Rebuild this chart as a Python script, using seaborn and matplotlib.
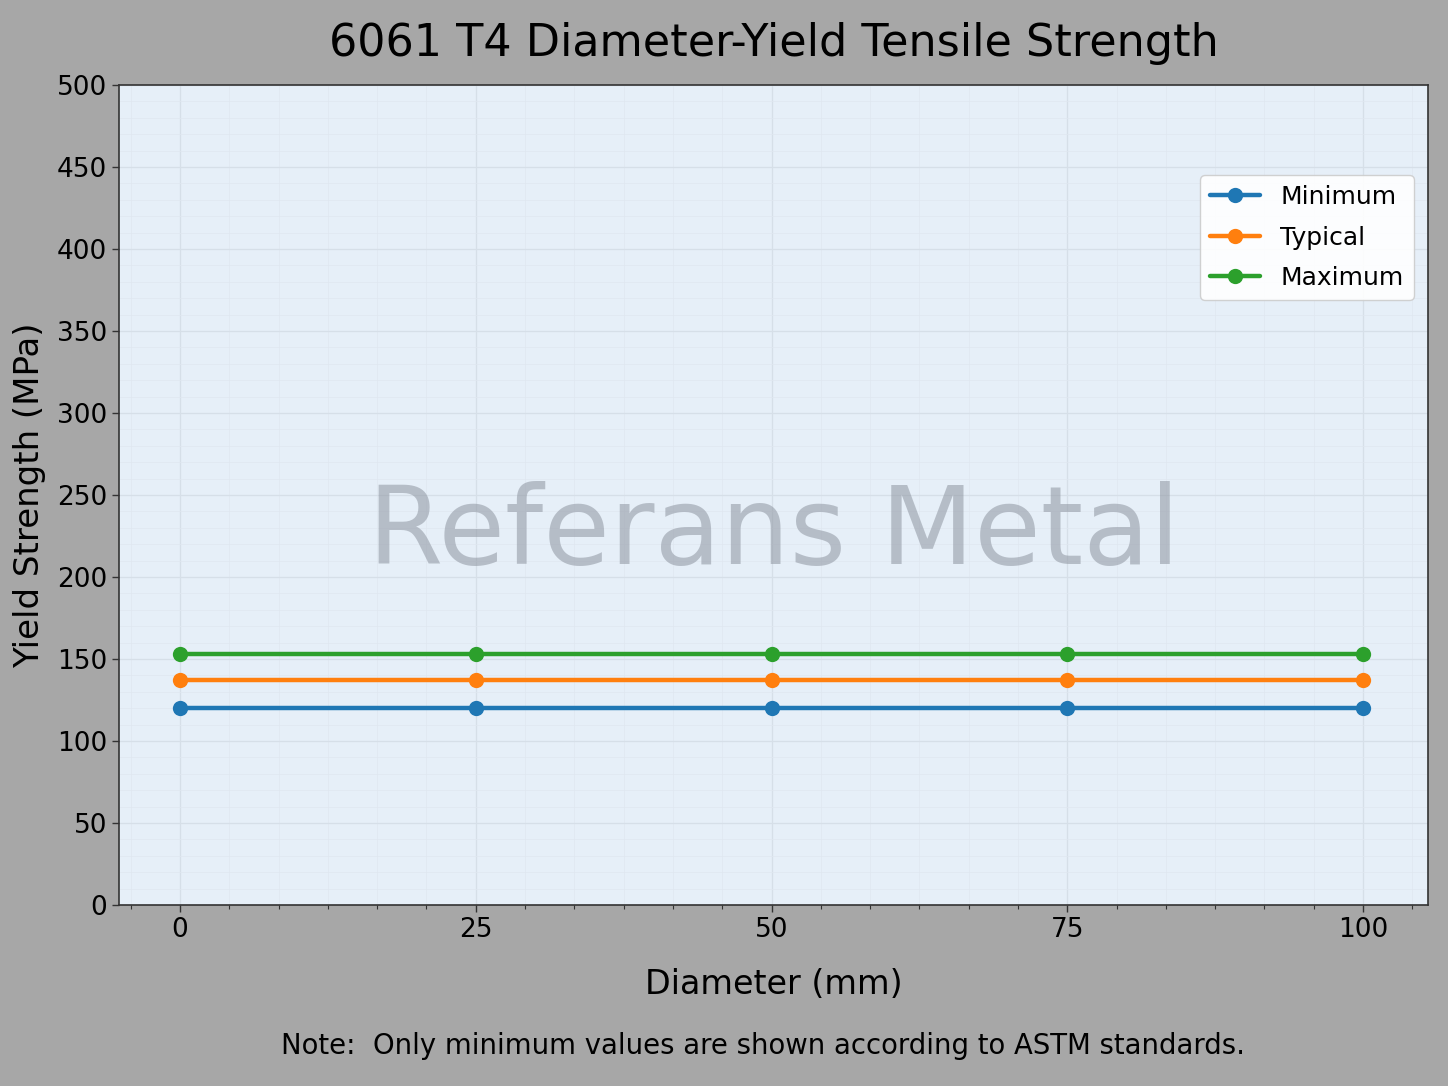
import numpy as np
import pandas as pd
import matplotlib
matplotlib.use("Agg")
import matplotlib.pyplot as plt
from matplotlib.ticker import AutoMinorLocator, MultipleLocator
import seaborn as sns

# Data
diameters = [0, 25, 50, 75, 100]
minimum = [120, 120, 120, 120, 120]
typical = [137, 137, 137, 137, 137]
maximum = [153, 153, 153, 153, 153]
series_names = ['Minimum', 'Typical', 'Maximum']
colors = ['#1f77b4', '#ff7f0e', '#2ca02c']

df = pd.DataFrame({
    'diameter': diameters * 3,
    'strength': minimum + typical + maximum,
    'series': [n for n in series_names for _ in diameters],
})

sns.set_style('ticks')
plt.rcParams['font.family'] = ['DejaVu Sans']
plt.rcParams['text.color'] = 'black'
plt.rcParams['axes.labelcolor'] = 'black'

fig = plt.figure(figsize=(14.48, 10.86), dpi=100, facecolor='#a7a7a7')
ax = fig.add_axes([0.0822, 0.1667, 0.904, 0.755])
ax.set_facecolor('#e6eff8')

sns.lineplot(data=df, x='diameter', y='strength', hue='series',
             palette=colors, hue_order=series_names, marker='o',
             markersize=11, markeredgewidth=0, linewidth=3.2, ax=ax)

ax.set_ylim(0, 500)
ax.set_xlim(-5.16, 105.5)
ax.xaxis.set_major_locator(MultipleLocator(25))
ax.xaxis.set_minor_locator(AutoMinorLocator(6))
ax.yaxis.set_major_locator(MultipleLocator(50))
ax.yaxis.set_minor_locator(MultipleLocator(10))
ax.tick_params(axis='both', which='major', labelsize=19, length=5, width=1,
               colors='#333333', labelcolor='black')
ax.tick_params(axis='x', which='minor', length=3, width=0.8, colors='#333333')
ax.tick_params(axis='y', which='minor', length=0)
ax.grid(True, which='major', color='#d6dfe8', linewidth=0.9)
ax.grid(True, which='minor', color='#dfe7f0', linewidth=0.5)
ax.set_axisbelow(True)
for s in ax.spines.values():
    s.set_color('#333333')
    s.set_linewidth(1.2)

ax.set_xlabel('Diameter (mm)', fontsize=24, labelpad=18)
ax.set_ylabel('Yield Strength (MPa)', fontsize=24.5, labelpad=8)
ax.set_title('6061 T4 Diameter-Yield Tensile Strength', fontsize=32, pad=21)

ax.text(0.5, 0.452, 'Referans Metal', transform=ax.transAxes, ha='center',
        va='center', fontsize=78, color='#8e95a0', alpha=0.55, zorder=1)

leg = ax.legend(loc='upper right', bbox_to_anchor=(0.989, 0.89), borderaxespad=0,
                fontsize=18, frameon=True, framealpha=0.9, edgecolor='#cccccc',
                handlelength=2.0, labelspacing=0.66)
leg.get_frame().set_facecolor('white')

fig.text(763 / 1448, 1 - 1046 / 1086,
         'Note:  Only minimum values are shown according to ASTM standards.',
         ha='center', va='center', fontsize=19.8)

fig.savefig('out.png', dpi=100, facecolor=fig.get_facecolor())
